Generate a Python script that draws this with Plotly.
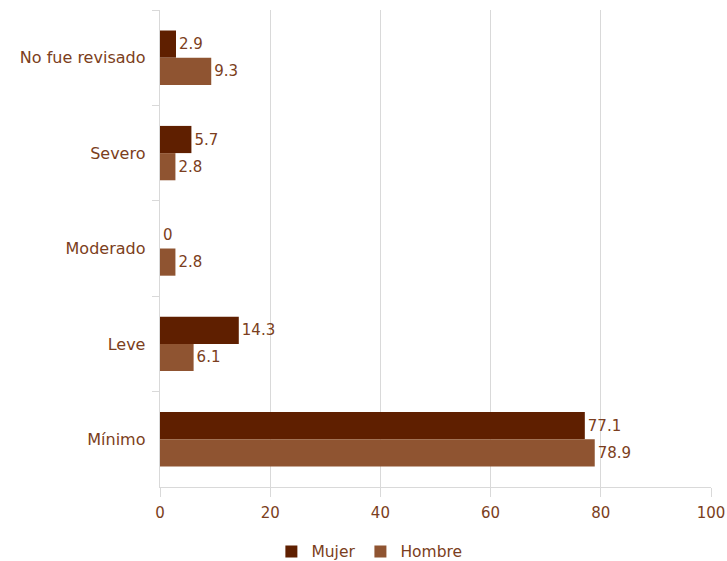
import plotly.graph_objects as go

categories = ["No fue revisado", "Severo", "Moderado", "Leve", "Mínimo"]
mujer = [2.9, 5.7, 0, 14.3, 77.1]
hombre = [9.3, 2.8, 2.8, 6.1, 78.9]
x_ticks = [0, 20, 40, 60, 80, 100]

txt = "#7b3e20"
font_family = "DejaVu Sans, Open Sans, sans-serif"
fs = 15

fig = go.Figure()
fig.add_trace(go.Bar(
    y=categories, x=mujer, name="Mujer", orientation="h",
    marker=dict(color="#5f1f00", line=dict(width=0)),
    text=[f"{v:g}" for v in mujer], textposition="outside",
    textfont=dict(color=txt, size=fs, family=font_family), cliponaxis=False,
))
fig.add_trace(go.Bar(
    y=categories, x=hombre, name="Hombre", orientation="h",
    marker=dict(color="#8f5431", line=dict(width=0)),
    text=[f"{v:g}" for v in hombre], textposition="outside",
    textfont=dict(color=txt, size=fs, family=font_family), cliponaxis=False,
))

fig.update_layout(
    width=727, height=561,
    margin=dict(l=160, r=16, t=10, b=74, autoexpand=False),
    barmode="group", bargap=0.43, bargroupgap=0,
    plot_bgcolor="white", paper_bgcolor="white",
    font=dict(family=font_family, size=fs, color=txt),
    showlegend=True,
    legend=dict(orientation="h", xref="paper", yref="paper",
                x=0.38, xanchor="center", y=-0.136, yanchor="middle",
                font=dict(size=15.5, color=txt), itemwidth=30,
                tracegroupgap=0),
    xaxis=dict(range=[0, 100], tickvals=x_ticks, showgrid=True,
               gridcolor="#d9d9d9", gridwidth=1.3, zeroline=False,
               showline=True, linecolor="#d9d9d9", linewidth=1.3,
               ticks="outside", ticklen=9, tickcolor="#d9d9d9", tickwidth=1.3,
               tickfont=dict(size=fs, color=txt), automargin=False,
               ticklabelstandoff=3),
    yaxis=dict(autorange="reversed", showline=True, linecolor="#d9d9d9",
               linewidth=1.3, ticks="outside", tickson="boundaries",
               ticklen=7, tickcolor="#d9d9d9", tickwidth=1.3,
               showgrid=False, tickfont=dict(size=16, color=txt),
               ticksuffix="  ", automargin=False),
)

fig.write_html("out.html", config={"displayModeBar": False},
               post_script="document.body.style.margin='0';document.body.style.overflow='hidden';")
